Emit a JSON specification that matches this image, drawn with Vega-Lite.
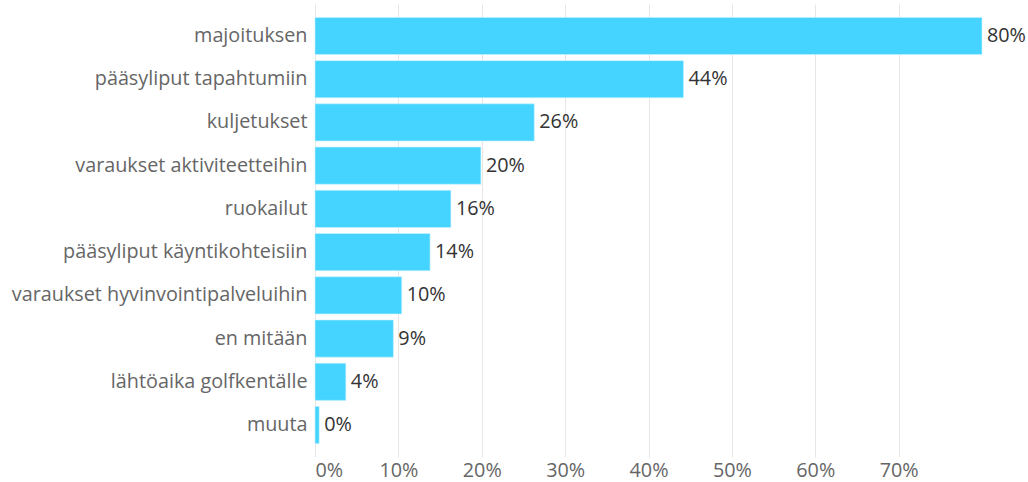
{
  "$schema": "https://vega.github.io/schema/vega-lite/v6.json",
  "width": 667,
  "height": 453,
  "autosize": {"type": "none"},
  "padding": {"left": 315, "top": 4, "right": 46, "bottom": 25},
  "background": "white",
  "config": {
    "view": {"stroke": null},
    "font": "Open Sans"
  },
  "data": {
    "values": [
      {"category": "majoituksen", "pct": 80.0, "label": "80%"},
      {"category": "pääsyliput tapahtumiin", "pct": 44.2, "label": "44%"},
      {"category": "kuljetukset", "pct": 26.3, "label": "26%"},
      {"category": "varaukset aktiviteetteihin", "pct": 19.9, "label": "20%"},
      {"category": "ruokailut", "pct": 16.3, "label": "16%"},
      {"category": "pääsyliput käyntikohteisiin", "pct": 13.8, "label": "14%"},
      {"category": "varaukset hyvinvointipalveluihin", "pct": 10.4, "label": "10%"},
      {"category": "en mitään", "pct": 9.4, "label": "9%"},
      {"category": "lähtöaika golfkentälle", "pct": 3.7, "label": "4%"},
      {"category": "muuta", "pct": 0.5, "label": "0%"}
    ]
  },
  "encoding": {
    "y": {
      "field": "category",
      "type": "nominal",
      "sort": null,
      "scale": {"paddingInner": 0.14, "paddingOuter": 0.31},
      "axis": {
        "title": null,
        "ticks": false,
        "domain": false,
        "labelPadding": 8,
        "labelFontSize": 19.8,
        "labelColor": "#666666",
        "labelLimit": 400
      }
    },
    "x": {
      "field": "pct",
      "type": "quantitative",
      "scale": {"domain": [0, 80], "nice": false},
      "axis": {
        "title": null,
        "values": [0, 10, 20, 30, 40, 50, 60, 70],
        "labelExpr": "datum.value + '%'",
        "ticks": false,
        "domain": false,
        "grid": true,
        "gridColor": "#e6e6e6",
        "gridWidth": 1,
        "labelPadding": 3,
        "labelFontSize": 19.8,
        "labelColor": "#666666"
      }
    }
  },
  "layer": [
    {
      "mark": {"type": "bar", "color": "#45D4FF", "stroke": "#c8f1ff", "strokeWidth": 0.6}
    },
    {
      "mark": {"type": "text", "align": "left", "baseline": "middle", "dx": 5, "fontSize": 19.8, "color": "#333333"},
      "encoding": {"text": {"field": "label"}}
    }
  ]
}
